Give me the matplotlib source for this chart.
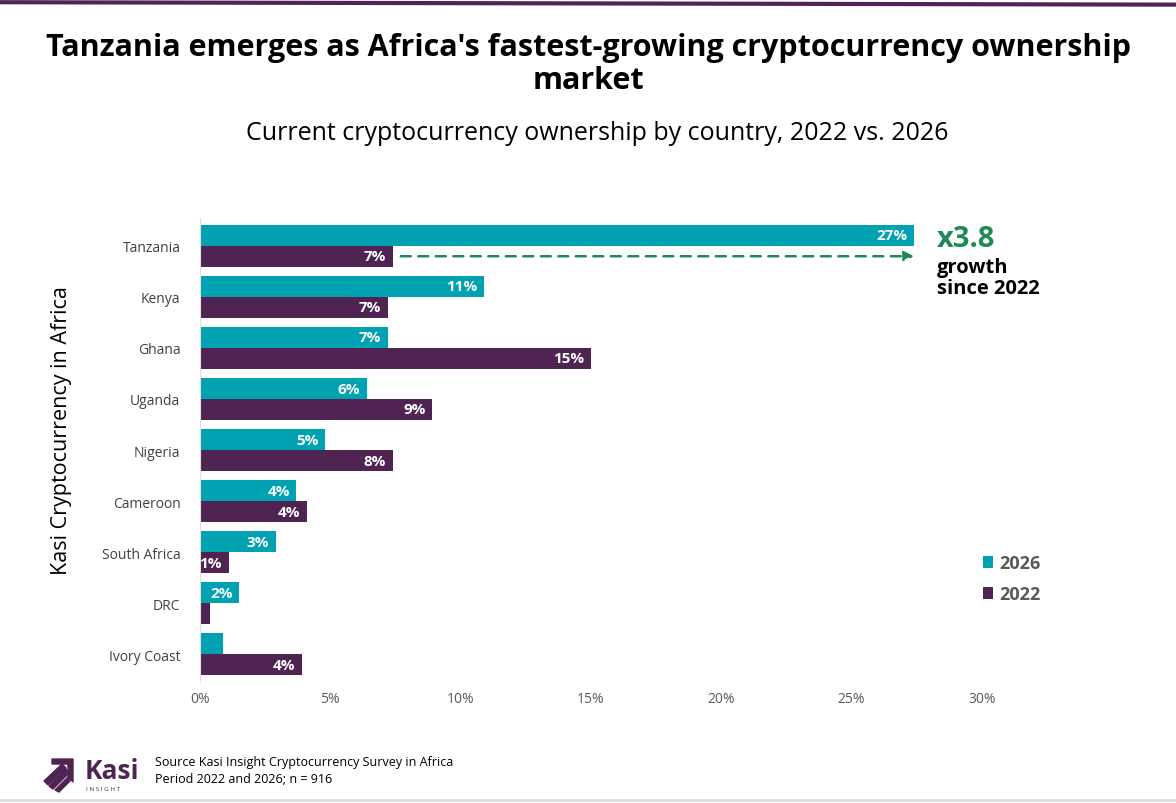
import numpy as np
import matplotlib
matplotlib.use("Agg")
import matplotlib.pyplot as plt
from matplotlib.patches import Polygon

countries = ["Tanzania", "Kenya", "Ghana", "Uganda", "Nigeria", "Cameroon",
             "South Africa", "DRC", "Ivory Coast"]
own_2026 = [27.4, 10.9, 7.2, 6.4, 4.8, 3.7, 2.9, 1.5, 0.9]
own_2022 = [7.4, 7.2, 15.0, 8.9, 7.4, 4.1, 1.1, 0.4, 3.9]
labels_2026 = ["27%", "11%", "7%", "6%", "5%", "4%", "3%", "2%", ""]
labels_2022 = ["7%", "7%", "15%", "9%", "8%", "4%", "1%", "", "4%"]
xticks = [0, 5, 10, 15, 20, 25, 30]

teal = "#00A2B1"
purple = "#4F2453"
green = "#1E8B57"
font = "Open Sans"

fig = plt.figure(figsize=(11.76, 8.04), dpi=100)
ax = fig.add_axes([0.170, 0.150, 0.665, 0.578])

y = np.arange(len(countries))
h = 0.41
ax.barh(y - h / 2, own_2026, height=h, color=teal, label="2026")
ax.barh(y + h / 2, own_2022, height=h, color=purple, label="2022")

for i in range(len(countries)):
    if labels_2026[i]:
        ax.text(own_2026[i] - 0.25, y[i] - h / 2, labels_2026[i], ha="right", va="center",
                color="white", fontsize=11, fontweight="bold", family=font)
    if labels_2022[i]:
        ax.text(own_2022[i] - 0.25, y[i] + h / 2, labels_2022[i], ha="right", va="center",
                color="white", fontsize=11, fontweight="bold", family=font)

ax.set_xlim(0, 30)
ax.set_ylim(len(countries) - 0.45, -0.55)
ax.set_yticks(y)
ax.set_yticklabels(countries, family=font, fontsize=10, color="#404040")
ax.set_xticks(xticks)
ax.set_xticklabels([f"{t}%" for t in xticks], family=font, fontsize=10, color="#595959")
ax.tick_params(length=0)
ax.tick_params(axis="y", pad=14)
ax.tick_params(axis="x", pad=6)
for s in ["top", "right", "bottom"]:
    ax.spines[s].set_visible(False)
ax.spines["left"].set_color("#E0E0E0")
fig.text(62 / 1176, 1 - 431 / 804, "Kasi Cryptocurrency in Africa", family=font, fontsize=15.5,
         rotation=90, ha="center", va="center")

# growth arrow
ax.annotate("", xy=(27.5, y[0] + h / 2), xytext=(7.6, y[0] + h / 2),
            arrowprops=dict(arrowstyle="-|>", color=green, lw=1.8, linestyle=(0, (4, 3)),
                            mutation_scale=14))
fig.text(0.797, 0.702, "x3.8", color=green, fontsize=21, fontweight="bold", family=font,
         va="center", ha="left")
fig.text(0.797, 0.654, "growth\nsince 2022", color="black", fontsize=14.5, fontweight="bold",
         family=font, va="center", ha="left", linespacing=1.05)

leg = ax.legend(loc="lower left", bbox_to_anchor=(0.98, 0.135), frameon=False,
                prop={"family": font, "weight": "bold", "size": 13},
                handlelength=0.6, handleheight=0.6, handletextpad=0.3, labelspacing=0.72)
for t in leg.get_texts():
    t.set_color("#595959")

# titles
fig.text(0.5, 0.920, "Tanzania emerges as Africa's fastest-growing cryptocurrency ownership\nmarket",
         ha="center", va="center", fontsize=22, fontweight="bold", family=font, linespacing=1.15)
fig.text(0.508, 0.834, "Current cryptocurrency ownership by country, 2022 vs. 2026",
         ha="center", va="center", fontsize=18, family=font)

# top and bottom lines
fig.add_artist(plt.Line2D([0, 1], [0.996, 0.993], color=purple, lw=3, transform=fig.transFigure))
fig.add_artist(plt.Line2D([0, 1], [0.004, 0.004], color="#DDDDDD", lw=2, transform=fig.transFigure))

# logo
W, H = 1176, 804
def px(xp, yp):
    return (xp / W, 1 - yp / H)
logo_polys = [
    [px(52, 760), px(73, 760), px(73, 783), px(68, 778), px(68, 765), px(52, 765)],
    [px(44, 782), px(62, 765), px(66, 769), px(48, 786)],
    [px(49, 787), px(66, 770), px(69, 774), px(53, 790)],
    [px(55, 791), px(68, 778), px(70, 782), px(59, 793)],
]
for p in logo_polys:
    fig.add_artist(Polygon(p, closed=True, color=purple, transform=fig.transFigure))
fig.text(*px(85, 772), "Kasi", color=purple, fontsize=19, fontweight="bold", family=font,
         va="center", ha="left")
fig.text(*px(86, 790), "I N S I G H T", color=purple, fontsize=4.5, family=font,
         va="center", ha="left")
fig.text(*px(155, 763), "Source Kasi Insight Cryptocurrency Survey in Africa", fontsize=9,
         family=font, va="center", ha="left")
fig.text(*px(155, 780), "Period 2022 and 2026; n = 916", fontsize=9,
         family=font, va="center", ha="left")

fig.savefig("out.png", dpi=100)
